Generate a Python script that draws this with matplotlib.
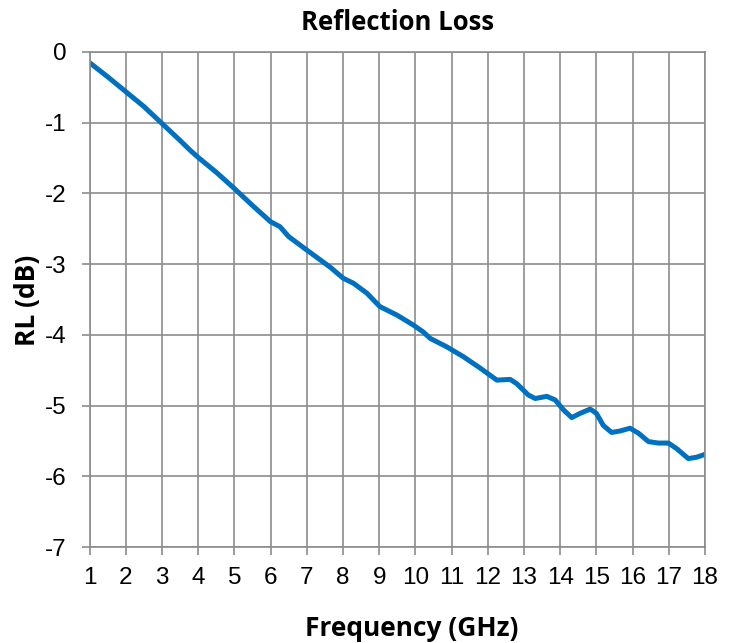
import matplotlib
matplotlib.use("Agg")
import matplotlib.pyplot as plt

# ================= data =================
freq_ghz = [1.0, 1.5, 2.0, 2.5, 3.0, 3.5, 3.78, 4.0, 4.5, 5.0, 5.5, 6.0, 6.26, 6.5,
            7.0, 7.64, 8.01, 8.29, 8.66, 9.02, 9.49, 9.94, 10.22, 10.41, 10.87,
            11.33, 11.79, 12.25, 12.62, 12.80, 13.12, 13.31, 13.63, 13.86, 14.09,
            14.32, 14.55, 14.83, 15.0, 15.19, 15.42, 15.65, 15.93, 16.16, 16.44,
            16.71, 16.99, 17.22, 17.54, 17.77, 18.0]
rl_db = [-0.15, -0.35, -0.56, -0.77, -1.01, -1.25, -1.39, -1.49, -1.70, -1.93,
         -2.17, -2.40, -2.47, -2.61, -2.80, -3.04, -3.20, -3.27, -3.41, -3.60,
         -3.72, -3.86, -3.96, -4.05, -4.17, -4.31, -4.47, -4.64, -4.63, -4.69,
         -4.85, -4.90, -4.87, -4.92, -5.06, -5.17, -5.11, -5.05, -5.11, -5.28,
         -5.38, -5.36, -5.32, -5.39, -5.51, -5.53, -5.53, -5.61, -5.75, -5.73,
         -5.69]
x_ticks = list(range(1, 19))
y_ticks = [0, -1, -2, -3, -4, -5, -6, -7]

plt.rcParams['axes.unicode_minus'] = False
W, H = 735, 643
grid_c = '#8c8c8c'

fig = plt.figure(figsize=(W / 100, H / 100), dpi=100)
ax = fig.add_axes([89.5 / W, 1 - 547 / H, (705 - 89.5) / W, (547 - 52) / H])

ax.plot(freq_ghz, rl_db, color='#0070c0', lw=3.6, solid_capstyle='round')

ax.set_xlim(1, 18)
ax.set_ylim(-7, 0)
ax.set_xticks(x_ticks)
ax.set_yticks(y_ticks)
ax.set_yticklabels([str(v) for v in y_ticks])
ax.grid(True, color=grid_c, lw=1.2)
ax.set_axisbelow(True)
for s in ax.spines.values():
    s.set_color(grid_c)
    s.set_linewidth(1.2)
ax.tick_params(direction='out', length=5.5, width=1.2, color=grid_c,
               labelsize=17.5)
ax.tick_params(axis='x', pad=9)
ax.tick_params(axis='y', pad=11)
for lab in ax.get_xticklabels() + ax.get_yticklabels():
    lab.set_fontfamily('Liberation Sans')

# titles / labels placed like the Excel chart
bold = dict(fontfamily='Open Sans', fontweight='bold')
fig.text(398 / W, 1 - 22 / H, 'Reflection Loss', ha='center', va='center',
         fontsize=18.5, **bold)
fig.text(412 / W, 1 - 628 / H, 'Frequency (GHz)', ha='center', va='center',
         fontsize=19, **bold)
fig.text(27 / W, 1 - 300 / H, 'RL (dB)', ha='center', va='center',
         rotation=90, fontsize=19, **bold)

fig.savefig('out.png', dpi=100)
